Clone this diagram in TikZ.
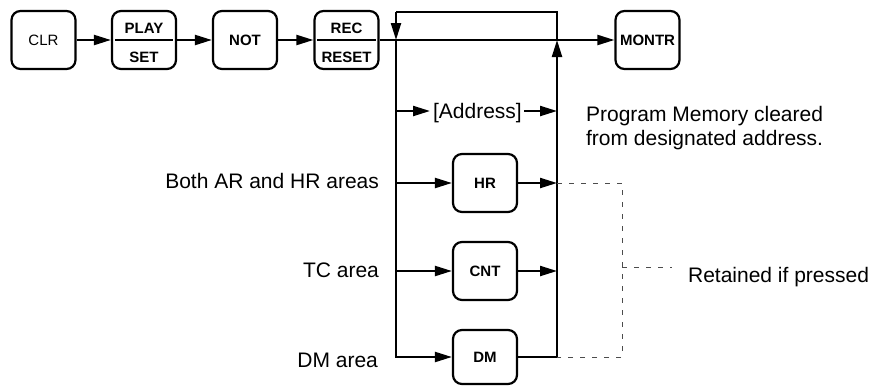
\documentclass[tikz,border=0pt]{standalone}
\usepackage{fontspec}
\setmainfont{Liberation Sans}
\usetikzlibrary{arrows.meta}
\begin{document}
\begin{tikzpicture}[x=1pt,y=-1pt,
  line width=2.2pt,
  keybox/.style={draw, line width=2.2pt, rounded corners=9pt, minimum width=64pt, minimum height=58pt, inner sep=0pt, font=\fontsize{15}{18}\selectfont\bfseries},
  keytxt/.style={inner sep=0pt, font=\fontsize{15}{18}\selectfont\bfseries},
  lbl/.style={inner sep=0pt, font=\fontsize{21}{24}\selectfont},
  arr/.style={-{Triangle[length=17pt,width=10pt]}},
  dsh/.style={draw=black!70, line width=1pt, dash pattern=on 5pt off 7pt}]
\useasboundingbox (0,0) rectangle (882,386);
% keys
\node[keybox, font=\fontsize{15}{18}\selectfont] (clr) at (43.5,40) {CLR};
\node[keybox] (play) at (144,40) {};
\node[keytxt, anchor=base] (playT) at (144,33) {PLAY};
\node[keytxt, anchor=base] (setT) at (144,62) {SET};
\node[keybox] (not) at (245,40) {NOT};
\node[keybox] (rec) at (346.5,40) {};
\node[keytxt, anchor=base] (recT) at (346.5,33) {REC};
\node[keytxt, anchor=base] (resetT) at (346.5,62) {RESET};
\node[keybox] (montr) at (647.5,40) {MONTR};
\node[keybox] (hr) at (485,183) {HR};
\node[keybox] (cnt) at (485,271) {CNT};
\node[keybox, minimum height=54pt] (dm) at (485,357) {DM};
\draw ([xshift=4pt]play.west) -- ([xshift=-4pt]play.east);
\draw ([xshift=4pt]rec.west) -- ([xshift=-4pt]rec.east);
% coordinates
\coordinate (lt) at (396,12);
\coordinate (rt) at (557,12);
\coordinate (lj) at (396,40);
\coordinate (rj) at (557,40);
\coordinate (la) at (396,111);
\coordinate (aL) at (430,111);
\coordinate (aR) at (524,111);
\coordinate (ra) at (557,111);
\coordinate (lh) at (396,183);
\coordinate (rh) at (557,183);
\coordinate (lc) at (396,271);
\coordinate (rc) at (557,271);
\coordinate (ld) at (396,357);
\coordinate (rd) at (557,357);
\coordinate (d1) at (622,183);
\coordinate (d2) at (622,357);
\coordinate (dm1) at (622,267);
\coordinate (dm2) at (672,267);
% top chain
\draw[arr] (clr) -- (play);
\draw[arr] (play) -- (not);
\draw[arr] (not) -- (rec);
\draw[arr] (rec) -- (montr);
% loop
\draw (rj) -- (rt) -- (lt);
\draw[arr] (lt) -- (lj);
\draw[arr] (lj) -- (ld) -- (dm);
\draw[arr] (dm) -- (rd) -- (rj);
\draw[arr] (la) -- (aL);
\draw[arr] (aR) -- (ra);
\draw[arr] (lh) -- (hr);
\draw[arr] (hr) -- (rh);
\draw[arr] (lc) -- (cnt);
\draw[arr] (cnt) -- (rc);
% dashed
\draw[dsh] (rh) -- (d1) -- (d2) -- (rd);
\draw[dsh] (dm1) -- (dm2);
% labels
\node[lbl, anchor=base west] (addr) at (432,118) {[Address]};
\node[lbl, anchor=base west] (pm1) at (585,121) {Program Memory cleared};
\node[lbl, anchor=base west] (pm2) at (585,145) {from designated address.};
\node[lbl, anchor=base east] (both) at (380,188) {Both AR and HR areas};
\node[lbl, anchor=base east] (tc) at (380,277) {TC area};
\node[lbl, anchor=base east] (dma) at (379,367) {DM area};
\node[lbl, anchor=base west] (ret) at (687,282) {Retained if pressed};
\end{tikzpicture}
\end{document}
